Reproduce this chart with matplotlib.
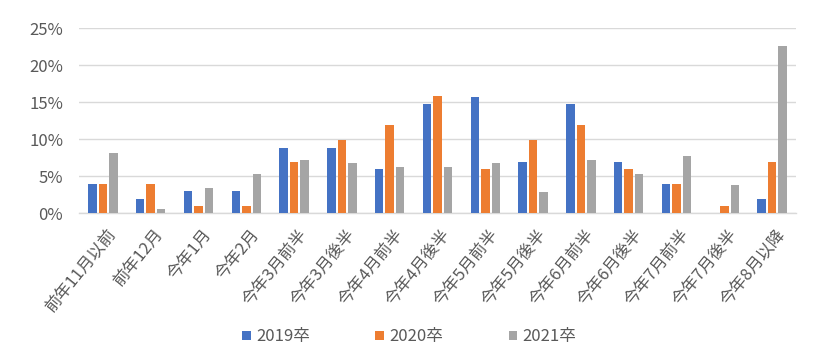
import matplotlib
matplotlib.use("Agg")
import matplotlib.pyplot as plt
from matplotlib.patches import Patch
from matplotlib.transforms import Bbox, TransformedBbox, ScaledTranslation
import numpy as np

plt.rcParams['font.family'] = ['Noto Sans CJK JP', 'DejaVu Sans']

categories = ["前年11月以前", "前年12月", "今年1月", "今年2月", "今年3月前半", "今年3月後半",
              "今年4月前半", "今年4月後半", "今年5月前半", "今年5月後半", "今年6月前半",
              "今年6月後半", "今年7月前半", "今年7月後半", "今年8月以降"]
series_names = ["2019卒", "2020卒", "2021卒"]
s2019 = [3.9, 1.9, 3.0, 3.0, 8.8, 8.8, 5.9, 14.7, 15.7, 6.9, 14.7, 6.9, 3.9, 0.0, 1.9]
s2020 = [3.9, 3.9, 1.0, 1.0, 6.9, 9.9, 11.9, 15.8, 5.9, 9.9, 11.9, 5.9, 3.9, 1.0, 6.9]
s2021 = [8.1, 0.5, 3.4, 5.3, 7.2, 6.8, 6.2, 6.2, 6.8, 2.8, 7.2, 5.3, 7.7, 3.8, 22.6]
yticks = [0, 5, 10, 15, 20, 25]
colors = ["#4472C4", "#ED7D31", "#A5A5A5"]

fig = plt.figure(figsize=(8.2, 3.52), dpi=100)
ax = fig.add_axes([79/820, 1-213/352, (796-79)/820, (213-28.3)/352])

x = np.arange(len(categories))
step = 0.22
width = 0.178
for i, (vals, c) in enumerate(zip([s2019, s2020, s2021], colors)):
    ax.bar(x + (i-1)*step, vals, width=width, color=c, zorder=3)

ax.set_xlim(-0.5, len(categories)-0.5)
ax.set_ylim(0, 25)
ax.set_yticks(yticks)
ax.set_yticklabels([f"{v}%" for v in yticks], fontsize=12, color="#595959")
ax.yaxis.grid(True, color="#D9D9D9", linewidth=1.0, zorder=0)
ax.tick_params(axis='y', length=0, pad=11.5)
ax.tick_params(axis='x', length=0, pad=9)
for s in ["top", "right", "left"]:
    ax.spines[s].set_visible(False)
ax.spines["bottom"].set_color("#D9D9D9")
ax.spines["bottom"].set_linewidth(1.0)

ax.set_xticks(x)
ax.set_xticklabels(categories, rotation=51, ha='right', va='top',
                   rotation_mode='anchor', fontsize=12, color="#595959")
clip = TransformedBbox(Bbox([[0, 45/352], [1, 1]]), fig.transFigure)
shift = ScaledTranslation(3/100, 0, fig.dpi_scale_trans)
for k, lab in enumerate(ax.get_xticklabels()):
    lab.set_transform(lab.get_transform() + shift)
    if k > 0:
        lab.set_clip_box(clip)
        lab.set_clip_on(True)

handles = [Patch(facecolor=c, edgecolor='none', label=n) for c, n in zip(colors, series_names)]
fig.legend(handles=handles, loc='center', bbox_to_anchor=(0.4994, 1-337/352), ncol=3,
           frameon=False, fontsize=12, handlelength=0.5, handleheight=0.5,
           handletextpad=0.35, columnspacing=3.9, labelcolor="#595959")

fig.savefig("out.png", dpi=100)
